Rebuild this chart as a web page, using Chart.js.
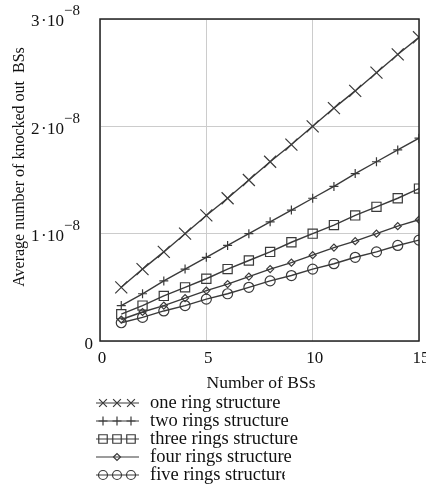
<!DOCTYPE html>
<html>
<head>
<meta charset="utf-8">
<script src="https://cdn.jsdelivr.net/npm/chart.js@4"></script>
<style>
  html, body { margin: 0; padding: 0; background: #fff; }
  #wrap { width: 426px; height: 497px; position: relative; }
</style>
</head>
<body>
<div id="wrap"><canvas id="chart" width="426" height="497"></canvas></div>
<script>
// Data (values are in units of 1e-8)
const numBSs = [1, 2, 3, 4, 5, 6, 7, 8, 9, 10, 11, 12, 13, 14, 15];
const oneRing = [0.50, 0.67, 0.83, 1.00, 1.17, 1.33, 1.50, 1.67, 1.83, 2.00, 2.17, 2.33, 2.50, 2.67, 2.83];
const twoRings = [0.33, 0.44, 0.56, 0.67, 0.78, 0.89, 1.00, 1.11, 1.22, 1.33, 1.44, 1.56, 1.67, 1.78, 1.89];
const threeRings = [0.25, 0.33, 0.42, 0.50, 0.58, 0.67, 0.75, 0.83, 0.92, 1.00, 1.08, 1.17, 1.25, 1.33, 1.42];
const fourRings = [0.20, 0.27, 0.33, 0.40, 0.47, 0.53, 0.60, 0.67, 0.73, 0.80, 0.87, 0.93, 1.00, 1.07, 1.13];
const fiveRings = [0.17, 0.22, 0.28, 0.33, 0.39, 0.44, 0.50, 0.56, 0.61, 0.67, 0.72, 0.78, 0.83, 0.89, 0.94];

const seriesNames = ['one ring structure', 'two rings structure', 'three rings structure', 'four rings structure', 'five rings structure'];
const yTicks = [0, 1, 2, 3];
const xTicks = [0, 5, 10, 15];

const ink = '#3a3a3a';
const serif = "'Liberation Serif', 'DejaVu Serif', serif";

const styles = [
    { pointStyle: 'crossRot', radius: 8.5, legendRadius: 5.5, count: 3 },
    { pointStyle: 'cross', radius: 4.5, legendRadius: 4.5, count: 3 },
    { pointStyle: 'rect', radius: 6.5, legendRadius: 6, count: 3 },
    { pointStyle: 'rectRot', radius: 3.5, legendRadius: 3.5, count: 1 },
    { pointStyle: 'circle', radius: 5, legendRadius: 4.5, count: 3 }
];

function toPoints(values) {
    return numBSs.map((x, i) => ({ x: x, y: values[i] }));
}

const allSeries = [oneRing, twoRings, threeRings, fourRings, fiveRings];
const datasets = allSeries.map((values, i) => ({
    label: seriesNames[i],
    data: toPoints(values),
    borderColor: ink,
    borderWidth: 1.4,
    pointStyle: styles[i].pointStyle,
    pointRadius: styles[i].radius,
    pointHoverRadius: styles[i].radius,
    pointBorderColor: ink,
    pointBackgroundColor: 'rgba(0,0,0,0)',
    pointBorderWidth: 1.2,
    clip: 0,
    tension: 0
}));

// Draws tick labels, titles, frame and the legend
const decorPlugin = {
    id: 'decor',
    afterDraw(chart) {
        const ctx = chart.ctx;
        const area = chart.chartArea;
        const yScale = chart.scales.y;
        const xScale = chart.scales.x;
        ctx.save();

        // frame
        ctx.strokeStyle = '#222';
        ctx.lineWidth = 1.5;
        ctx.strokeRect(area.left, area.top, area.right - area.left, area.bottom - area.top);

        // y tick labels
        ctx.fillStyle = '#111';
        ctx.textBaseline = 'middle';
        yTicks.forEach(v => {
            const py = yScale.getPixelForValue(v);
            ctx.font = '17px ' + serif;
            if (v === 0) {
                ctx.textAlign = 'right';
                ctx.fillText('0', 93, py + 4);
                return;
            }
            ctx.textAlign = 'left';
            ctx.fillText(String(v), 31, py + 3);
            ctx.fillText('\u00b7', 41, py + 3);
            ctx.fillText('10', 47, py + 3);
            ctx.font = '15px ' + serif;
            ctx.fillText('\u22128', 64, py - 7.5);
        });

        // x tick labels
        ctx.font = '17px ' + serif;
        ctx.textAlign = 'center';
        xTicks.forEach(v => {
            ctx.fillText(String(v), xScale.getPixelForValue(v) + 2, 359);
        });

        // x axis title
        ctx.font = '17.5px ' + serif;
        ctx.fillText('Number of BSs', 261, 383);

        // y axis title
        ctx.save();
        ctx.font = '16px ' + serif;
        ctx.translate(20, 167);
        ctx.rotate(-Math.PI / 2);
        ctx.fillText('Average number of knocked out  BSs', 0, 0);
        ctx.restore();

        // legend
        const rowY = [403, 421, 439, 457, 475];
        seriesNames.forEach((name, i) => {
            const y = rowY[i];
            ctx.strokeStyle = ink;
            ctx.lineWidth = 1.2;
            ctx.beginPath();
            ctx.moveTo(96, y);
            ctx.lineTo(139, y);
            ctx.stroke();
            const st = styles[i];
            const xs = st.count === 3 ? [103, 117, 131] : [117];
            xs.forEach(px => {
                ctx.fillStyle = 'rgba(0,0,0,0)';
                Chart.helpers.drawPoint(ctx, {
                    pointStyle: st.pointStyle,
                    radius: st.legendRadius,
                    rotation: 0,
                    borderWidth: 1.1
                }, px, y);
            });
            ctx.fillStyle = '#111';
            ctx.font = '18.5px ' + serif;
            ctx.textAlign = 'left';
            ctx.textBaseline = 'middle';
            if (i === 4) {
                const w = ctx.measureText(name).width;
                ctx.save();
                ctx.beginPath();
                ctx.rect(140, y - 14, w + 10 - 5, 28);
                ctx.clip();
                ctx.fillText(name, 150, y);
                ctx.restore();
            } else {
                ctx.fillText(name, 150, y);
            }
        });

        ctx.restore();
    }
};

new Chart(document.getElementById('chart'), {
    type: 'line',
    data: { datasets: datasets },
    options: {
        responsive: false,
        animation: false,
        events: [],
        layout: { autoPadding: false, padding: { top: 19, right: 7, left: 0, bottom: 0 } },
        plugins: {
            legend: { display: false },
            tooltip: { enabled: false }
        },
        scales: {
            x: {
                type: 'linear',
                min: 0,
                max: 15,
                afterFit(scale) {
                    scale.height = 156;
                },
                afterBuildTicks(scale) {
                    scale.ticks = xTicks.map(v => ({ value: v }));
                },
                ticks: { display: false },
                grid: { color: '#cccccc', lineWidth: 1, drawTicks: false },
                border: { display: false }
            },
            y: {
                type: 'linear',
                min: 0,
                max: 3,
                afterFit(scale) {
                    scale.width = 100;
                },
                afterBuildTicks(scale) {
                    scale.ticks = yTicks.map(v => ({ value: v }));
                },
                ticks: { display: false },
                grid: { color: '#cccccc', lineWidth: 1, drawTicks: false },
                border: { display: false }
            }
        }
    },
    plugins: [decorPlugin]
});
</script>
</body>
</html>
